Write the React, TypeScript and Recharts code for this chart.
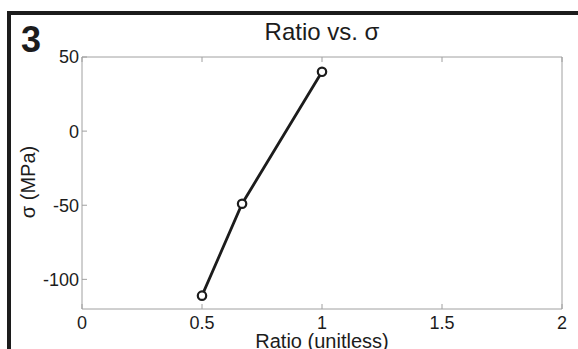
import { LineChart, Line, XAxis, YAxis, Customized } from "recharts";

const ratios = [0.5, 0.667, 1];
const sigmas = [-111, -49, 40];
const xTicks = [0, 0.5, 1, 1.5, 2];
const yTicks = [-100, -50, 0, 50];

const data = ratios.map((r, i) => ({ ratio: r, sigma: sigmas[i] }));

const FONT = "'Liberation Sans', Arial, sans-serif";
const AXIS = "#a0a0a0";
const INK = "#1c1c1c";

const NoTick = () => <g />;

function Labels() {
  return (
    <g fontFamily={FONT} fill={INK}>
      <text x={21} y={52} fontSize={36} fontWeight="bold">3</text>
      <text x={322} y={40} fontSize={24} textAnchor="middle">Ratio vs. σ</text>
      <text x={322} y={348} fontSize={20} textAnchor="middle">Ratio (unitless)</text>
      <text x={35} y={182} fontSize={20} textAnchor="middle" transform="rotate(-90, 35, 182)">
        σ (MPa)
      </text>
    </g>
  );
}

export default function App() {
  return (
    <div style={{ position: "absolute", top: 0, left: 0, width: 578, height: 349, background: "#fff" }}>
      {/* heavy frame on the top and left edges */}
      <div style={{ position: "absolute", left: 7, top: 11, right: 0, height: 4, background: INK }} />
      <div style={{ position: "absolute", left: 7, top: 11, bottom: 0, width: 4, background: INK }} />
      <div style={{ position: "absolute", top: 0, left: 0 }}>
        <LineChart width={578} height={349} data={data} margin={{ top: 56, right: 15, bottom: 0, left: 0 }}>
          <XAxis
            dataKey="ratio"
            type="number"
            domain={[0, 2]}
            ticks={xTicks}
            height={40}
            stroke={AXIS}
            tickSize={-5}
            tickMargin={12}
            tick={{ fill: INK, fontSize: 18, fontFamily: FONT }}
          />
          <XAxis
            xAxisId="top"
            orientation="top"
            dataKey="ratio"
            type="number"
            domain={[0, 2]}
            ticks={xTicks}
            height={1}
            stroke={AXIS}
            tickSize={-5}
            tick={NoTick}
          />
          <YAxis
            type="number"
            domain={[-120, 50]}
            ticks={yTicks}
            width={82}
            stroke={AXIS}
            tickSize={-5}
            tickMargin={8}
            tick={{ fill: INK, fontSize: 18, fontFamily: FONT }}
          />
          <YAxis
            yAxisId="right"
            orientation="right"
            type="number"
            domain={[-120, 50]}
            ticks={yTicks}
            width={1}
            stroke={AXIS}
            tickSize={-5}
            tick={NoTick}
          />
          <Line
            dataKey="sigma"
            type="linear"
            stroke={INK}
            strokeWidth={2.8}
            dot={{ r: 4.2, stroke: INK, strokeWidth: 2.2, fill: "#fff" }}
            isAnimationActive={false}
          />
          <Customized component={Labels} />
        </LineChart>
      </div>
    </div>
  );
}
